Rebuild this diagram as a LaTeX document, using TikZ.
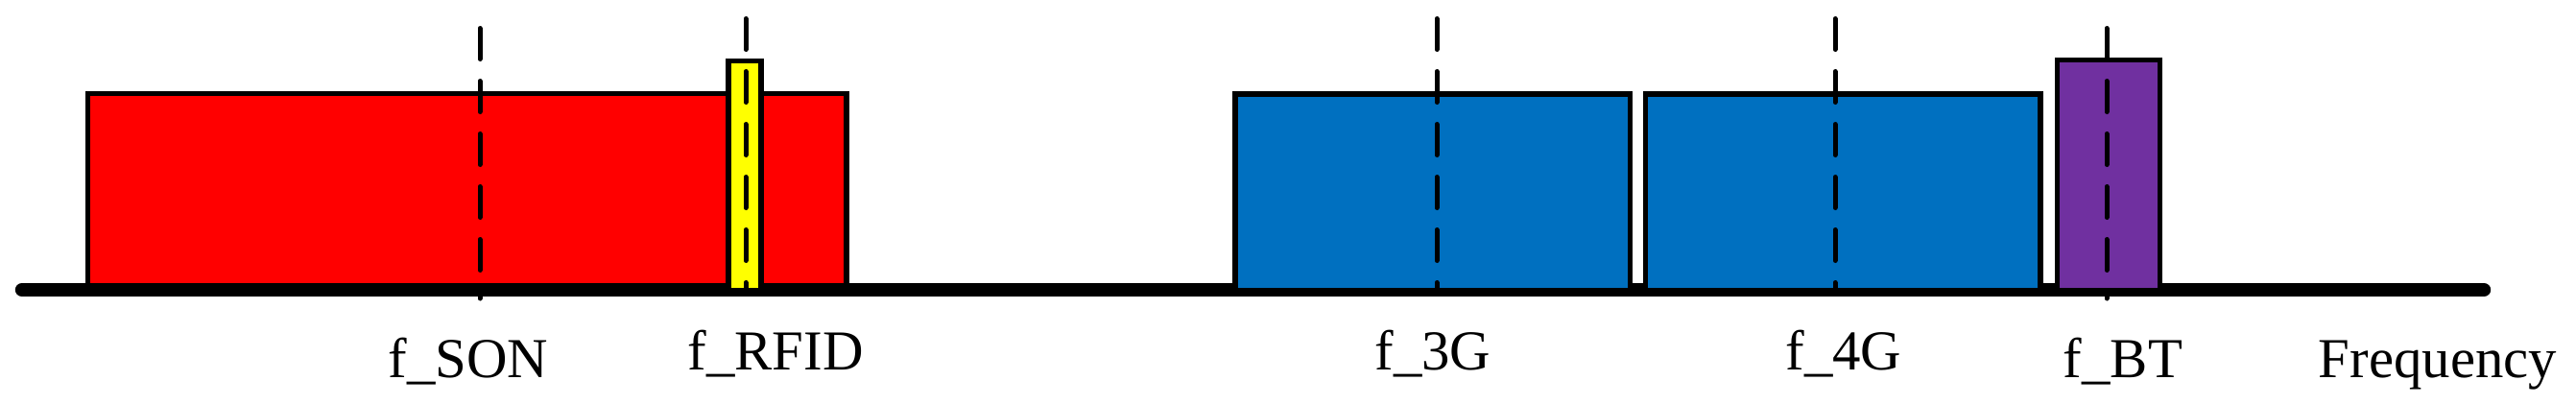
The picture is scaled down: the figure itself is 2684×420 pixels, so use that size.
\documentclass[tikz,border=0pt]{standalone}
\usepackage{fontspec}
\setmainfont{Liberation Serif}
\definecolor{bandred}{HTML}{FF0000}
\definecolor{bandyellow}{HTML}{FFFF00}
\definecolor{bandblue}{HTML}{0070C0}
\definecolor{bandpurple}{HTML}{7030A0}
\begin{document}
\begin{tikzpicture}[x=0.25pt,y=-0.25pt,
  band/.style={draw=black,line width=1.4pt,line join=miter},
  marker/.style={draw=black,line width=1.25pt,line cap=round,dash pattern=on 8pt off 5.75pt},
  axisline/.style={draw=black,line width=3.6pt,line cap=round},
  lbl/.style={font=\fontsize{14.7pt}{17pt}\selectfont,inner sep=0pt,anchor=base}]
\useasboundingbox (0,0) rectangle (2684,420);
% red band (under the axis)
\draw[band,fill=bandred] (91.5,300) |- (882,97.5) -- (882,300);
% axis
\coordinate (axL) at (23,302);
\coordinate (axR) at (2588,302);
\draw[axisline] (axL) -- (axR);
% other bands
\draw[band,fill=bandyellow] (759,300) |- (793,63.5) -- (793,300);
\draw[band,fill=bandblue] (1287,300) |- (1698.5,98) -- (1698.5,300);
\draw[band,fill=bandblue] (1714.5,300) |- (2126,98) -- (2126,300);
\draw[band,fill=bandpurple] (2143.5,300) |- (2250.5,62.5) -- (2250.5,300);
% centre-frequency markers
\coordinate (sonT) at (500,29.5);   \coordinate (sonB) at (500,311);
\coordinate (rfT) at (777,19.5);    \coordinate (rfB) at (777,300);
\coordinate (g3T) at (1497,19.5);   \coordinate (g3B) at (1497,300);
\coordinate (g4T) at (1912,19.5);   \coordinate (g4B) at (1912,300);
\coordinate (btT) at (2195,29.5);   \coordinate (btB) at (2195,311);
\draw[marker] (sonT) -- (sonB);
\draw[marker] (rfT) -- (rfB);
\draw[marker] (g3T) -- (g3B);
\draw[marker] (g4T) -- (g4B);
\draw[marker] (btT) -- (btB);
% labels
\node[lbl] (lson) at (488,393) {f\_SON};
\node[lbl] (lrfid) at (808,385) {f\_RFID};
\node[lbl] (l3g) at (1493,385) {f\_3G};
\node[lbl] (l4g) at (1921,385) {f\_4G};
\node[lbl] (lbt) at (2212,393) {f\_BT};
\node[lbl] (lfreq) at (2540,393) {Frequency};
\end{tikzpicture}
\end{document}
